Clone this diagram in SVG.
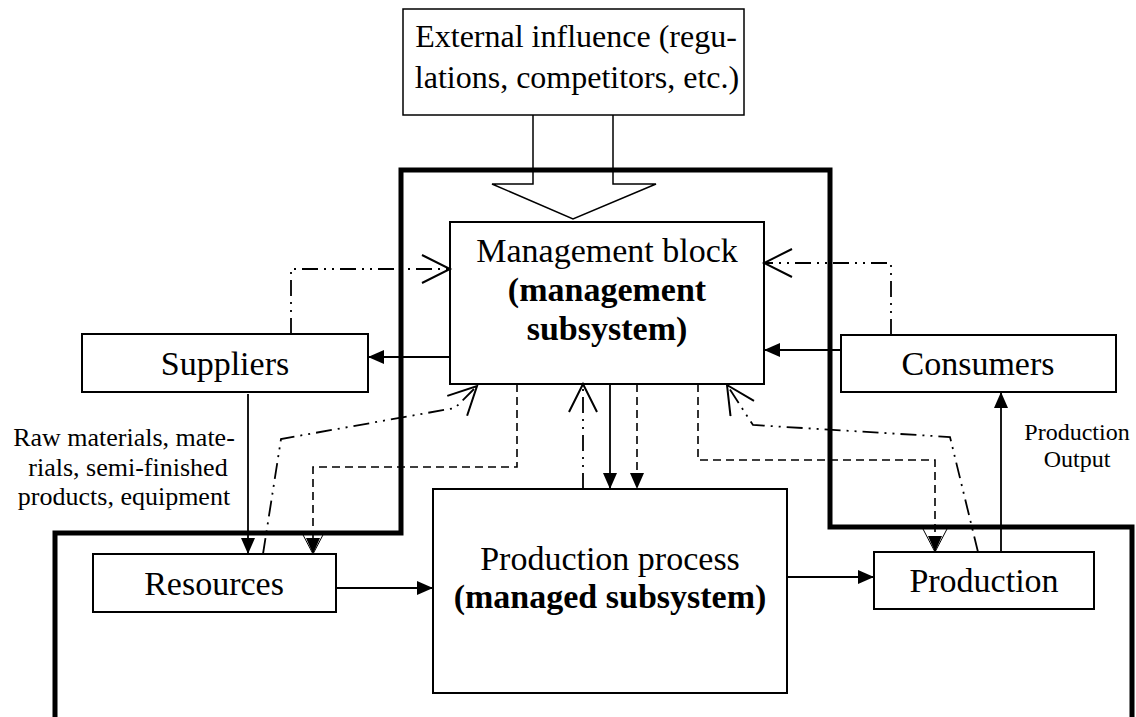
<svg xmlns="http://www.w3.org/2000/svg" width="1136" height="717" viewBox="0 0 1136 717">
<style>
.box{fill:#fff;stroke:#000;stroke-width:2}
.t{font-family:"Liberation Serif","Times New Roman",serif;fill:#000;text-anchor:middle}
.big{font-size:34px}
.b{font-weight:bold}
.sm{font-size:26px}
.xs{font-size:24px}
.solid{fill:none;stroke:#000;stroke-width:1.8}
.dash{fill:none;stroke:#000;stroke-width:1.6;stroke-dasharray:8 5}
.dd{fill:none;stroke:#000;stroke-width:1.8;stroke-dasharray:16 6 2 6 2 6}
.border{fill:none;stroke:#000;stroke-width:5}
</style>
<defs>
<marker id="fa" markerUnits="userSpaceOnUse" markerWidth="18" markerHeight="16" refX="16" refY="7" orient="auto">
<path d="M0,0 L16,7 L0,14 Z" fill="#000" stroke="none"/>
</marker>
<marker id="fv" markerUnits="userSpaceOnUse" markerWidth="26" markerHeight="28" refX="24" refY="13" orient="auto">
<path d="M8,6 L24,13 L8,20 Z" fill="#000" stroke="none"/>
<path d="M1,1 L24,13 L1,25" fill="none" stroke="#000" stroke-width="1" stroke-dasharray="none"/>
</marker>
<marker id="oa" markerUnits="userSpaceOnUse" markerWidth="32" markerHeight="32" refX="29" refY="15" orient="auto">
<path d="M1,1 L29,15 L1,29" fill="none" stroke="#000" stroke-width="2" stroke-dasharray="none"/>
</marker>
</defs>

<rect width="1136" height="717" fill="#fff"/>

<g id="boundary">
<polyline class="border" points="55,717 55,533 401,533 401,170 830,170 830,527 1132,527 1132,717"/>
</g>

<g id="external">
<rect class="box" x="403" y="9" width="341" height="106" style="stroke-width:1.5"/>
<text class="t" x="576" y="47" style="font-size:32px">External influence (regu-</text>
<text class="t" x="577" y="88" style="font-size:32px">lations, competitors, etc.)</text>
<polyline fill="none" stroke="#000" stroke-width="1.5" points="533,115 533,184 492,184 573,219 656,184 613,184 613,115"/>
</g>

<g id="management">
<rect class="box" x="450" y="222" width="314" height="162"/>
<text class="t big" x="607" y="262">Management block</text>
<text class="t big b" x="607" y="301">(management</text>
<text class="t big b" x="607" y="340">subsystem)</text>
</g>

<g id="suppliers">
<rect class="box" x="82" y="334" width="286" height="58"/>
<text class="t big" x="225" y="375">Suppliers</text>
</g>

<g id="consumers">
<rect class="box" x="841" y="335" width="275" height="57"/>
<text class="t big" x="978" y="375">Consumers</text>
</g>

<g id="resources">
<rect class="box" x="93" y="554" width="243" height="58"/>
<text class="t big" x="214" y="595">Resources</text>
</g>

<g id="process">
<rect class="box" x="433" y="489" width="354" height="204"/>
<text class="t big" x="610" y="570">Production process</text>
<text class="t big b" x="610" y="608">(managed subsystem)</text>
</g>

<g id="production">
<rect class="box" x="874" y="552" width="220" height="57"/>
<text class="t big" x="984" y="592">Production</text>
</g>

<g id="labels">
<text class="t sm" x="124" y="446">Raw materials, mate-</text>
<text class="t sm" x="128" y="476">rials, semi-finished</text>
<text class="t sm" x="124" y="505">products, equipment</text>
<text class="t xs" x="1077" y="440">Production</text>
<text class="t xs" x="1077" y="467">Output</text>
</g>

<g id="connectors">
<line class="solid" x1="450" y1="357" x2="368" y2="357" marker-end="url(#fa)"/>
<line class="solid" x1="841" y1="350" x2="764" y2="350" marker-end="url(#fa)"/>
<line class="solid" x1="248" y1="394" x2="248" y2="554" marker-end="url(#fa)"/>
<line class="solid" x1="336" y1="588" x2="433" y2="588" marker-end="url(#fa)"/>
<line class="solid" x1="787" y1="577" x2="874" y2="577" marker-end="url(#fa)"/>
<line class="solid" x1="1001" y1="552" x2="1001" y2="392" marker-end="url(#fa)"/>
<line class="solid" x1="610" y1="384" x2="610" y2="489" marker-end="url(#fa)"/>
<line class="dash" x1="637" y1="384" x2="637" y2="489" marker-end="url(#fa)"/>
<polyline class="dash" points="517,384 517,467 313,467 313,554" marker-end="url(#fv)"/>
<polyline class="dash" points="698,384 698,460 935,460 935,552" marker-end="url(#fv)"/>
<polyline class="dd" points="291,334 291,269 450,269" marker-end="url(#oa)"/>
<polyline class="dd" points="891,335 891,263 764,263" marker-end="url(#oa)"/>
<polyline class="dd" points="583,489 583,384" marker-end="url(#oa)"/>
<polyline class="dd" points="263,554 281,439 455,408 477,386" marker-end="url(#oa)"/>
<polyline class="dd" points="978,552 950,437 753,425 727,385" marker-end="url(#oa)"/>
</g>
</svg>
